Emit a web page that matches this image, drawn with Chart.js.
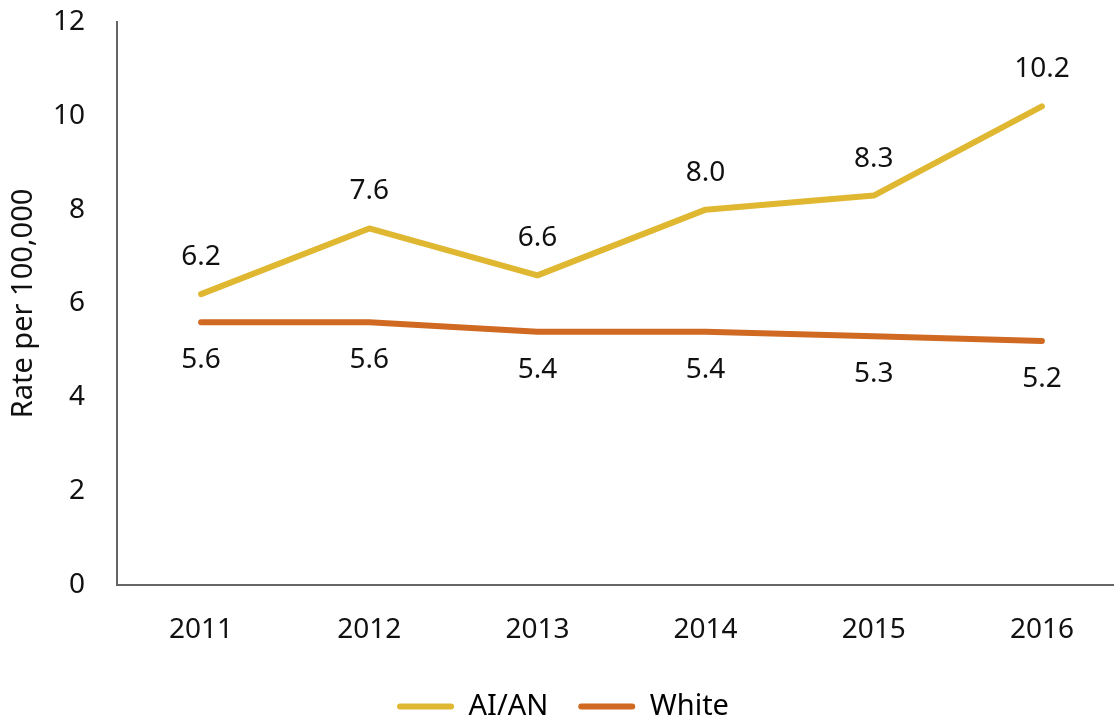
<!DOCTYPE html>
<html>
<head>
<meta charset="utf-8">
<script src="https://cdn.jsdelivr.net/npm/chart.js@4.4.1/dist/chart.umd.min.js"></script>
<style>
  html, body { margin: 0; padding: 0; background: #fff; overflow: hidden; }
  #wrap { width: 1130px; height: 721px; }
</style>
</head>
<body>
<div id="wrap"><canvas id="c" width="1130" height="721"></canvas></div>
<script>
const years = ['2011', '2012', '2013', '2014', '2015', '2016'];
const aian = [6.2, 7.6, 6.6, 8.0, 8.3, 10.2];
const white = [5.6, 5.6, 5.4, 5.4, 5.3, 5.2];
const yTicks = [0, 2, 4, 6, 8, 10, 12];

const FONT = '"Noto Sans", "DejaVu Sans", sans-serif';
const GOLD = '#DFB731';
const ORANGE = '#D06A23';

// Value labels: above the AI/AN line, below the White line
const valueLabels = {
  id: 'valueLabels',
  afterDatasetsDraw(chart) {
    const ctx = chart.ctx;
    ctx.save();
    ctx.font = '28px ' + FONT;
    ctx.fillStyle = '#111';
    ctx.textAlign = 'center';
    ctx.textBaseline = 'middle';
    chart.data.datasets.forEach((ds, i) => {
      const meta = chart.getDatasetMeta(i);
      const off = ds.labelSide === 'above' ? -37 : 38;
      meta.data.forEach((pt, j) => {
        ctx.fillText(ds.data[j].toFixed(1), pt.x, pt.y + off);
      });
    });
    ctx.restore();
  }
};

new Chart(document.getElementById('c'), {
  type: 'line',
  data: {
    labels: years,
    datasets: [
      {
        label: 'AI/AN', data: aian, labelSide: 'above',
        borderColor: GOLD, backgroundColor: GOLD,
        borderWidth: 6, tension: 0, pointRadius: 0,
        borderCapStyle: 'round', borderJoinStyle: 'round'
      },
      {
        label: 'White', data: white, labelSide: 'below',
        borderColor: ORANGE, backgroundColor: ORANGE,
        borderWidth: 6, tension: 0, pointRadius: 0,
        borderCapStyle: 'round', borderJoinStyle: 'round'
      }
    ]
  },
  options: {
    responsive: false,
    animation: false,
    layout: { padding: { top: 22, right: 4, bottom: -10, left: 0 } },
    plugins: {
      tooltip: { enabled: false },
      legend: {
        position: 'bottom',
        labels: {
          color: '#111',
          font: { family: FONT, size: 29 },
          boxWidth: 57, boxHeight: 6,
          useBorderRadius: true, borderRadius: 3,
          padding: 30,
          generateLabels(chart) {
            return chart.data.datasets.map((ds, i) => ({
              text: ds.label, fillStyle: ds.borderColor, strokeStyle: ds.borderColor,
              lineWidth: 0, borderRadius: 3, datasetIndex: i, hidden: false
            }));
          }
        }
      }
    },
    scales: {
      x: {
        offset: true,
        grid: { display: false },
        border: { display: true, color: '#666', width: 2 },
        ticks: { color: '#111', font: { family: FONT, size: 28 }, padding: 20, maxRotation: 0 },
        afterFit(s) { s.height = 77; s.paddingLeft = 0; s.paddingRight = 0; }
      },
      y: {
        min: 0, max: 12,
        afterBuildTicks(s) { s.ticks = yTicks.map(v => ({ value: v })); },
        grid: { display: false },
        border: { display: true, color: '#666', width: 2 },
        ticks: { color: '#111', font: { family: FONT, size: 28 }, padding: 24 },
        title: { display: true, text: 'Rate per 100,000', color: '#111', font: { family: FONT, size: 29 }, padding: { top: 6, bottom: 0 } },
        afterFit(s) { s.width = 117; s.paddingTop = 0; s.paddingBottom = 0; }
      }
    }
  },
  plugins: [valueLabels]
});
</script>
</body>
</html>
